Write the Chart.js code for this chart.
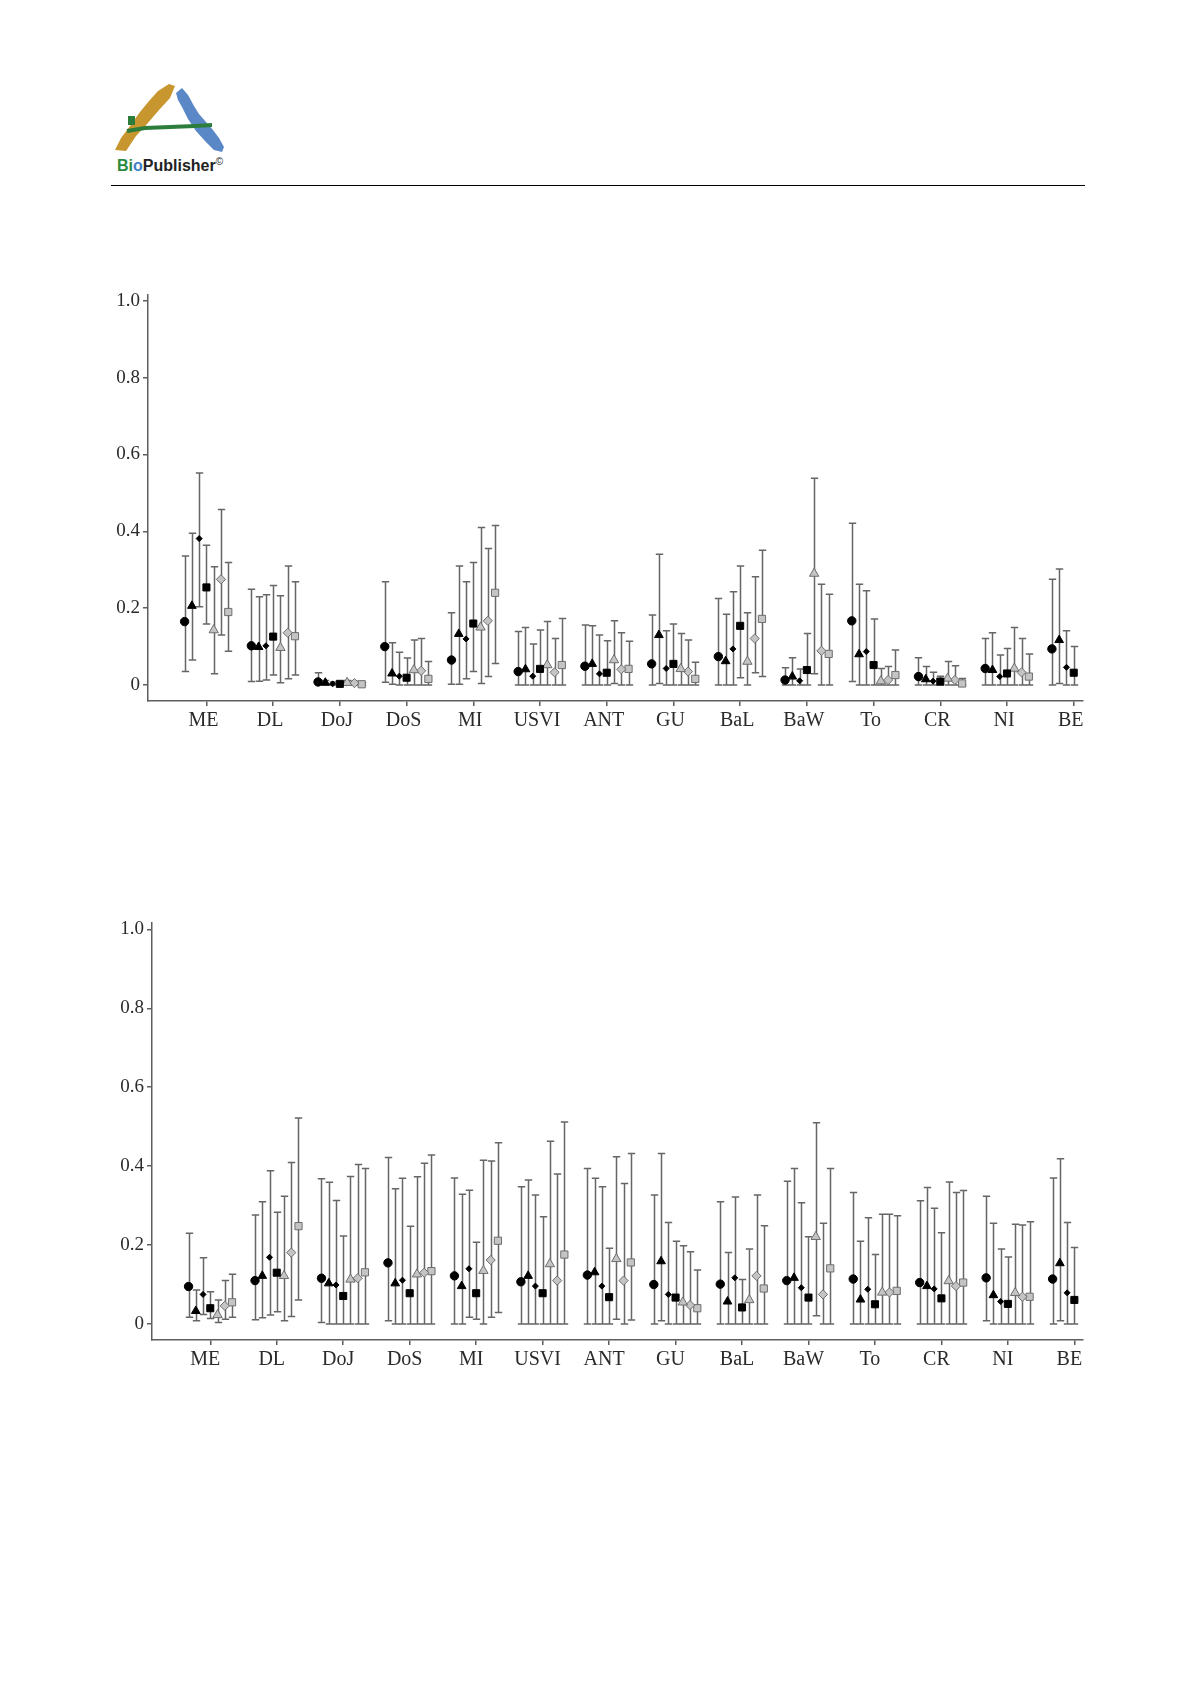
<!DOCTYPE html>
<html><head><meta charset="utf-8">
<script src="https://cdn.jsdelivr.net/npm/chart.js@4.4.1/dist/chart.umd.min.js"></script>
<style>
html,body{margin:0;padding:0;background:#fff;}
body{width:1196px;height:1692px;position:relative;overflow:hidden;}
#logo{position:absolute;left:0;top:0;}
#brand{position:absolute;left:117px;top:157px;font:bold 16px/1 "Liberation Sans",Arial,sans-serif;color:#222;white-space:nowrap;}
#brand sup{font-size:10px;font-weight:normal;vertical-align:6px;}
#rule{position:absolute;left:111px;top:185px;width:974px;height:1px;background:#000;}
canvas{position:absolute;left:0;}
</style></head>
<body>
<svg id="logo" width="240" height="160">
  <polygon points="115,150 126,151 136,136 147,124 159,110 170,98 175,86 169,84 158,91 149,101 140,112 130,126 121,138" fill="#c8962f"/>
  <polygon points="176,93 182,88 188,95 194,106 199,114 206,122 213,130 219,138 224,147 222,152 214,150 205,141 196,131 188,119 182,107 178,100" fill="#5a88c7"/>
  <path d="M127,131 L145,128 L170,127 L195,126 L212,125" stroke="#2c7d3b" stroke-width="4" fill="none"/>
  <rect x="128" y="116" width="7" height="9" fill="#2c7d3b"/>
</svg>
<div id="brand"><span style="color:#2a8a3e">Bi</span><span style="color:#3f7ec5">o</span>Publisher<sup>©</sup></div>
<div id="rule"></div>
<canvas id="c1" width="1196" height="490" style="top:260px;width:1196px;height:490px"></canvas>
<canvas id="c2" width="1196" height="500" style="top:890px;width:1196px;height:500px"></canvas>
<script>
const categories = ['ME','DL','DoJ','DoS','MI','USVI','ANT','GU','BaL','BaW','To','CR','NI','BE'];
const yTickValues = [0, 0.2, 0.4, 0.6, 0.8, 1.0];

// ---- Upper chart ----
const topCircle    = [0.165,0.102,0.008,0.100,0.065,0.035,0.049,0.055,0.074,0.013,0.167,0.022,0.043,0.094];
const topCircleLo  = [0.035,0.009,0.002,0.007,0.002,0,0,0,0,0,0.009,0,0,0];
const topCircleHi  = [0.336,0.249,0.032,0.269,0.188,0.139,0.156,0.182,0.225,0.045,0.421,0.071,0.121,0.275];
const topTri       = [0.206,0.099,0.006,0.030,0.133,0.041,0.055,0.130,0.062,0.022,0.080,0.015,0.039,0.117];
const topTriLo     = [0.065,0.010,0.001,0.002,0.002,0,0,0.004,0,0,0,0,0,0.004];
const topTriHi     = [0.395,0.230,0.012,0.110,0.310,0.150,0.154,0.340,0.184,0.071,0.262,0.048,0.136,0.302];
const topDia       = [0.381,0.102,0.003,0.023,0.120,0.023,0.029,0.043,0.094,0.011,0.087,0.010,0.022,0.046];
const topDiaLo     = [0.204,0.013,0,0,0.016,0,0,0,0,0,0,0,0,0];
const topDiaHi     = [0.552,0.235,0.008,0.085,0.269,0.107,0.130,0.141,0.243,0.042,0.245,0.033,0.078,0.141];
const topSq        = [0.254,0.126,0.003,0.019,0.160,0.042,0.032,0.055,0.154,0.039,0.052,0.009,0.030,0.032];
const topSqLo      = [0.159,0.026,0,0,0.035,0,0,0,0.019,0,0,0,0,0];
const topSqHi      = [0.364,0.259,0.008,0.070,0.319,0.143,0.115,0.159,0.310,0.134,0.172,0.023,0.095,0.100];
const topGTri      = [0.143,0.097,0.006,0.039,0.150,0.052,0.065,0.042,0.061,0.290,0.010,0.017,0.043,null];
const topGTriLo    = [0.029,0.006,0,0,0.004,0,0.004,0,0,0.029,0,0,0,null];
const topGTriHi    = [0.308,0.232,0.012,0.117,0.410,0.165,0.167,0.134,0.188,0.538,0.043,0.061,0.150,null];
const topGDia      = [0.275,0.136,0.005,0.037,0.167,0.033,0.041,0.035,0.121,0.089,0.013,0.013,0.033,null];
const topGDiaLo    = [0.130,0.016,0,0,0.022,0,0,0,0.032,0,0,0,0,null];
const topGDiaHi    = [0.457,0.310,0.010,0.121,0.355,0.121,0.136,0.117,0.282,0.262,0.048,0.050,0.121,null];
const topGSq       = [0.190,0.127,0.002,0.016,0.240,0.052,0.042,0.016,0.172,0.081,0.026,0.004,0.022,null];
const topGSqLo     = [0.088,0.026,0,0,0.056,0,0,0,0.022,0,0,0,0,null];
const topGSqHi     = [0.319,0.269,0.006,0.061,0.415,0.173,0.114,0.059,0.351,0.236,0.091,0.017,0.081,null];

// ---- Lower chart ----
const botCircle    = [0.095,0.110,0.116,0.155,0.122,0.107,0.124,0.100,0.101,0.110,0.114,0.105,0.117,0.114];
const botCircleLo  = [0.017,0.011,0.004,0.008,0,0,0,0,0,0,0,0,0.008,0];
const botCircleHi  = [0.230,0.276,0.368,0.422,0.370,0.348,0.394,0.327,0.310,0.362,0.333,0.312,0.324,0.370];
const botTri       = [0.033,0.122,0.103,0.103,0.096,0.122,0.131,0.159,0.057,0.117,0.062,0.096,0.073,0.154];
const botTriLo     = [0.008,0.016,0,0,0,0,0,0.008,0,0,0,0,0,0.008];
const botTriHi     = [0.086,0.310,0.359,0.343,0.329,0.365,0.369,0.432,0.181,0.394,0.210,0.346,0.255,0.419];
const botDia       = [0.075,0.169,0.099,0.111,0.140,0.096,0.096,0.075,0.117,0.092,0.088,0.089,0.057,0.079];
const botDiaLo     = [0.024,0.023,0,0,0.017,0,0,0,0,0,0,0,0,0];
const botDiaHi     = [0.168,0.388,0.313,0.369,0.339,0.327,0.348,0.257,0.322,0.307,0.269,0.293,0.190,0.257];
const botSq        = [0.040,0.130,0.071,0.078,0.078,0.078,0.068,0.067,0.042,0.067,0.050,0.065,0.051,0.061];
const botSqLo      = [0.014,0.031,0,0,0.012,0,0,0,0,0,0,0,0,0];
const botSqHi      = [0.082,0.283,0.223,0.248,0.207,0.272,0.192,0.210,0.113,0.221,0.176,0.231,0.170,0.194];
const botGTri      = [0.023,0.122,0.113,0.126,0.135,0.152,0.165,0.055,0.061,0.221,0.080,0.109,0.079,null];
const botGTriLo    = [0.004,0.008,0,0,0,0,0.012,0,0,0.021,0,0,0,null];
const botGTriHi    = [0.061,0.324,0.374,0.373,0.415,0.463,0.424,0.198,0.190,0.510,0.278,0.360,0.253,null];
const botGDia      = [0.046,0.181,0.116,0.130,0.162,0.110,0.110,0.048,0.122,0.075,0.080,0.096,0.069,null];
const botGDiaLo    = [0.012,0.019,0,0,0.017,0,0,0,0,0,0,0,0,null];
const botGDiaHi    = [0.110,0.409,0.404,0.407,0.413,0.380,0.356,0.183,0.327,0.255,0.278,0.333,0.251,null];
const botGSq       = [0.055,0.248,0.131,0.134,0.211,0.176,0.156,0.040,0.090,0.141,0.084,0.105,0.069,null];
const botGSqLo     = [0.017,0.061,0,0,0.029,0,0.010,0,0,0,0,0,0,null];
const botGSqHi     = [0.126,0.522,0.394,0.428,0.459,0.512,0.432,0.137,0.249,0.394,0.274,0.338,0.259,null];

const markerStyles = [
  {pointStyle:'circle',   r:4.2, bg:'#000', bd:'#000'},
  {pointStyle:'triangle', r:5.0, bg:'#000', bd:'#000'},
  {pointStyle:'rectRot',  r:3.0, bg:'#000', bd:'#000'},
  {pointStyle:'rect',     r:5.0, bg:'#000', bd:'#000'},
  {pointStyle:'triangle', r:5.4, bg:'#c4c4c4', bd:'#6e6e6e'},
  {pointStyle:'rectRot',  r:4.6, bg:'#c4c4c4', bd:'#6e6e6e'},
  {pointStyle:'rect',     r:5.1, bg:'#c4c4c4', bd:'#6e6e6e'}
];
const DODGE = 0.109;

const errorBars = {
  id:'errorBars',
  beforeDatasetsDraw(chart){
    const ctx = chart.ctx, xs = chart.scales.x, ys = chart.scales.y;
    ctx.save();
    ctx.strokeStyle = '#666';
    ctx.lineWidth = 1.5;
    chart.data.datasets.forEach(ds => {
      ds.data.forEach(p => {
        const px = Math.round(xs.getPixelForValue(p.x)) + 0.5;
        const yl = ys.getPixelForValue(p.lo), yh = ys.getPixelForValue(p.hi);
        ctx.beginPath();
        ctx.moveTo(px, yl); ctx.lineTo(px, yh);
        ctx.moveTo(px - 3.7, yl); ctx.lineTo(px + 3.7, yl);
        ctx.moveTo(px - 3.7, yh); ctx.lineTo(px + 3.7, yh);
        ctx.stroke();
      });
    });
    ctx.restore();
  }
};

function buildDatasets(series){
  return series.map((s, k) => {
    const st = markerStyles[k];
    const pts = [];
    s.v.forEach((v, i) => {
      if (v === null) return;
      pts.push({x: i + (k - 3) * DODGE, y: v, lo: s.lo[i], hi: s.hi[i]});
    });
    return {
      data: pts, showLine:false, pointStyle: st.pointStyle, pointRadius: st.r,
      pointBackgroundColor: st.bg, pointBorderColor: st.bd, pointBorderWidth: 1
    };
  });
}

function makeChart(id, series, yMin, yMax, xMin, xMax, pad, labelShift){
  const axisColor = '#5e5e5e';
  new Chart(document.getElementById(id), {
    type:'scatter',
    data:{datasets: buildDatasets(series)},
    plugins:[errorBars],
    options:{
      responsive:false, animation:false, devicePixelRatio:1,
      layout:{padding:pad},
      plugins:{legend:{display:false}, tooltip:{enabled:false}},
      scales:{
        x:{
          type:'linear', min:xMin, max:xMax,
          afterBuildTicks: s => { s.ticks = categories.map((c, i) => ({value:i})); },
          afterFit: s => { s.height = 40; },
          ticks:{autoSkip:false, maxRotation:0, padding:3, color:'#2a2a2a', labelOffset:labelShift,
                 font:{family:'"Liberation Serif", "Times New Roman", serif', size:20},
                 callback: v => categories[v]},
          grid:{display:true, drawOnChartArea:false, drawTicks:true, tickLength:5, color:axisColor, lineWidth:1.5},
          border:{display:true, color:axisColor, width:1.5}
        },
        y:{
          type:'linear', min:yMin, max:yMax,
          afterBuildTicks: s => { s.ticks = yTickValues.map(v => ({value:v})); },
          afterFit: s => { s.width = 60; },
          ticks:{padding:3, color:'#2a2a2a',
                 font:{family:'"Liberation Serif", "Times New Roman", serif', size:19},
                 callback: v => v === 0 ? '0' : v.toFixed(1)},
          grid:{display:true, drawOnChartArea:false, drawTicks:true, tickLength:5, color:axisColor, lineWidth:1.5},
          border:{display:true, color:axisColor, width:1.5}
        }
      }
    }
  });
}

makeChart('c1', [
  {v:topCircle, lo:topCircleLo, hi:topCircleHi},
  {v:topTri, lo:topTriLo, hi:topTriHi},
  {v:topDia, lo:topDiaLo, hi:topDiaHi},
  {v:topSq, lo:topSqLo, hi:topSqHi},
  {v:topGTri, lo:topGTriLo, hi:topGTriHi},
  {v:topGDia, lo:topGDiaLo, hi:topGDiaHi},
  {v:topGSq, lo:topGSqLo, hi:topGSqHi}
], -0.0416, 1.015, -0.876, 13.139, {left:88, right:113, top:35, bottom:9}, -3);

makeChart('c2', [
  {v:botCircle, lo:botCircleLo, hi:botCircleHi},
  {v:botTri, lo:botTriLo, hi:botTriHi},
  {v:botDia, lo:botDiaLo, hi:botDiaHi},
  {v:botSq, lo:botSqLo, hi:botSqHi},
  {v:botGTri, lo:botGTriLo, hi:botGTriHi},
  {v:botGDia, lo:botGDiaLo, hi:botGDiaHi},
  {v:botGSq, lo:botGSqLo, hi:botGSqHi}
], -0.0405, 1.016, -0.877, 13.13, {left:92, right:113, top:33, bottom:10}, -5);
</script>
</body></html>
